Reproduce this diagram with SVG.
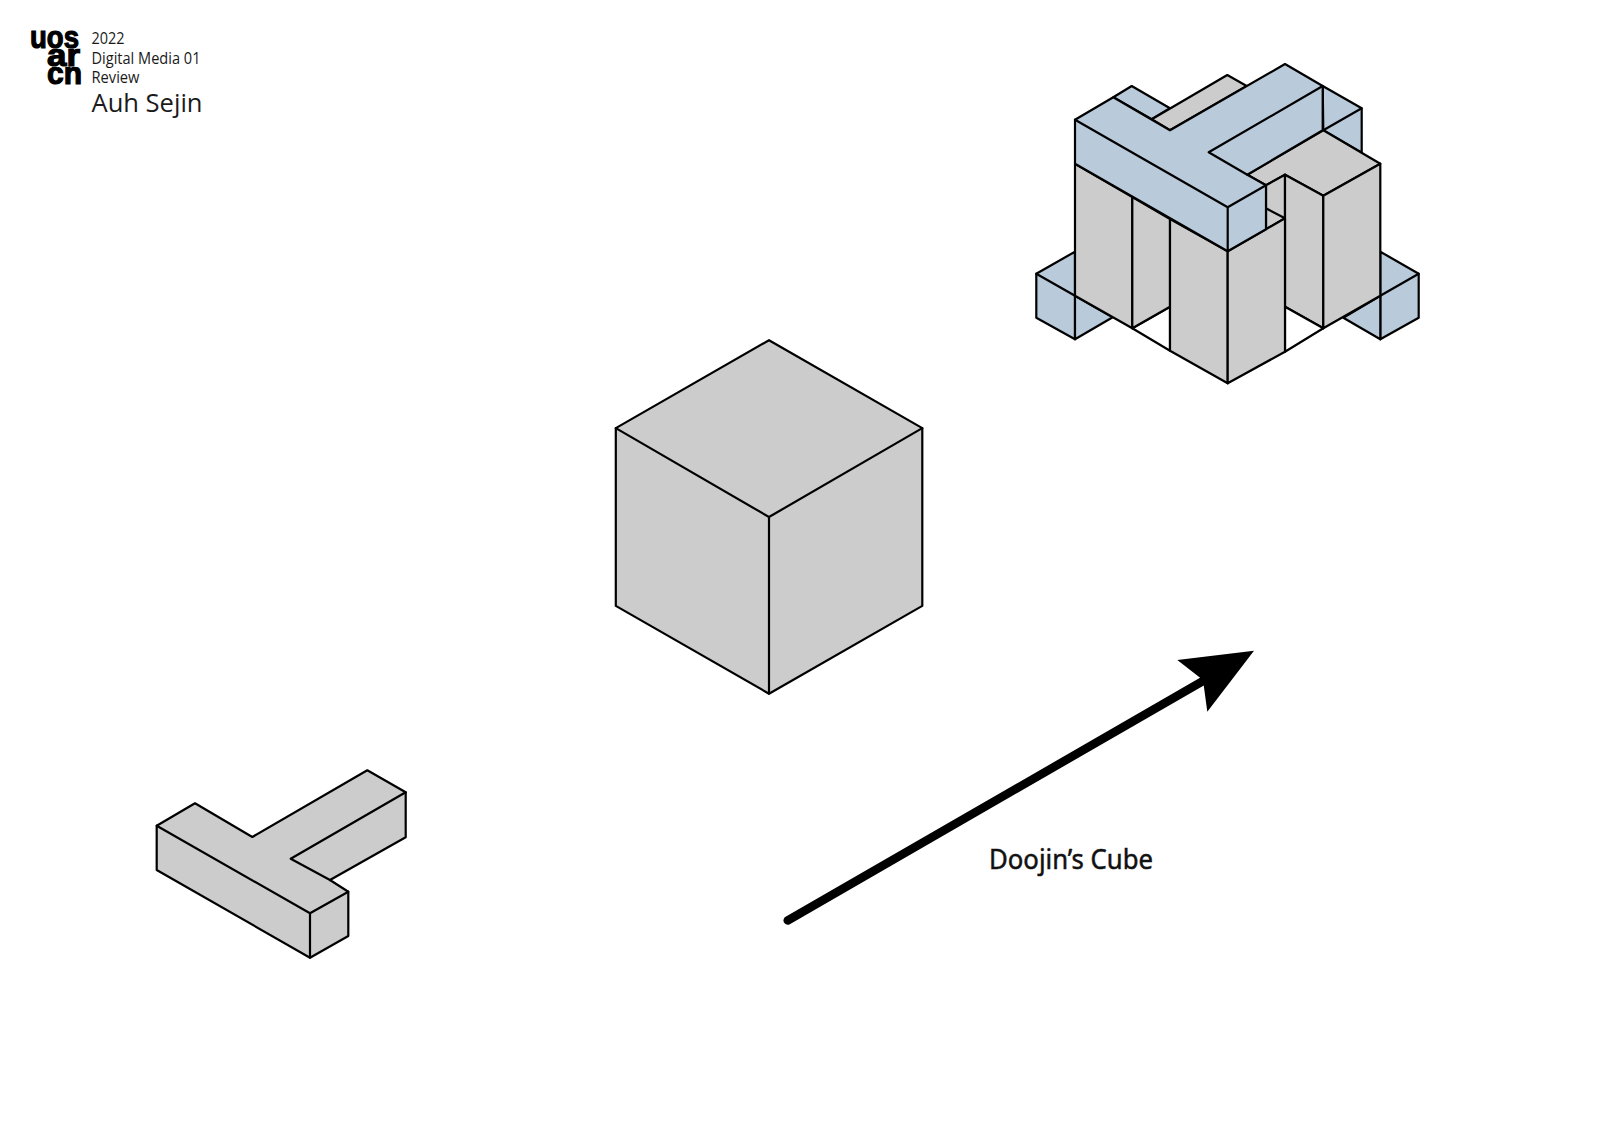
<svg xmlns="http://www.w3.org/2000/svg" width="1600" height="1131" viewBox="0 0 1600 1131">
<style>
.e{stroke:#000;stroke-width:2.200;stroke-linejoin:round;stroke-linecap:round}
.g{fill:#cccccc}.b{fill:#b9cada}.w{fill:#fff}.n{fill:none}
.h{font-family:"Open Sans","Liberation Sans",sans-serif;fill:#1a1a1a}
.l{font-family:"Liberation Sans",sans-serif;font-weight:700;fill:#000;stroke:#000;stroke-width:1.200;font-size:32px}
</style>
<defs>
<clipPath id="row2"><rect x="40" y="48.500" width="50" height="18.500"/></clipPath>
<clipPath id="row3"><rect x="40" y="66.800" width="50" height="18.500"/></clipPath>
</defs>
<rect width="1600" height="1131" fill="#fff"/>
<g id="logo">
<text class="l" x="30" y="48" textLength="49" lengthAdjust="spacingAndGlyphs">uos</text>
<text class="l" x="47" y="66" textLength="33" lengthAdjust="spacingAndGlyphs" clip-path="url(#row2)">ar</text>
<text class="l" x="47" y="84" textLength="35" lengthAdjust="spacingAndGlyphs" clip-path="url(#row3)">ch</text>
</g>
<g id="header">
<text class="h" font-size="15.500"><tspan x="91.500" y="44" textLength="33" lengthAdjust="spacingAndGlyphs">2022</tspan><tspan x="91.500" y="63.500" textLength="109" lengthAdjust="spacingAndGlyphs">Digital Media 01</tspan><tspan x="91.500" y="82.500" textLength="48" lengthAdjust="spacingAndGlyphs">Review</tspan></text>
<text class="h" x="91.500" y="112" font-size="25" textLength="111" lengthAdjust="spacingAndGlyphs">Auh Sejin</text>
</g>
<g id="t-piece" class="e">
<path class="g" d="M156.700 825.700L195 803.300L252.300 837L367.300 770.300L405.700 792.300V837.300L330 880L348.300 891.700V936L310 957.700L156.700 870Z"/>
<path class="n" d="M156.700 825.700L310 913.300L348.300 891.700M310 913.300V957.700M405.700 792.300L290.700 858.700L330 880"/>
</g>
<g id="cube" class="e">
<path class="g" d="M769 340.200L922.300 428.100V605.900L769 693.700L615.800 605.900V428.100Z"/>
<path class="n" d="M615.800 428.100L769 517L922.300 428.100M769 517V693.700"/>
</g>
<g id="assembly" class="e">
<g id="foot-left">
<path class="b" d="M1036.300 273.700L1075 251.700V339.300L1036.300 317.700Z"/>
<path class="b" d="M1075 295.700L1112.700 317.300L1075 339.300Z"/>
<path class="n" d="M1036.300 273.700L1075 295.700"/>
</g>
<g id="foot-right">
<path class="b" d="M1380.300 251.700L1418.700 273.700V317.700L1380.300 339.300Z"/>
<path class="b" d="M1380.300 295.700L1343.300 317.700L1380.300 339.300Z"/>
<path class="n" d="M1418.700 273.700L1380.300 295.700"/>
</g>
<g id="back-pieces">
<path class="b" d="M1113.300 97.300L1131.700 86L1170 108.300L1151.700 119.300Z"/>
<path class="g" d="M1151.700 119.300L1227.300 75L1246.700 86L1170 130.300Z"/>
<path class="b" d="M1322.700 86L1361.700 108.300V152.800L1323.300 130.300Z"/>
<path class="n" d="M1323.300 130.300L1361.700 108.300"/>
</g>
<g id="gray-columns">
<path class="g" d="M1323.300 130.300L1380.300 163.700L1323.300 195.700L1285 174.700L1266 185.300L1247.300 174.700Z"/>
<path class="g" d="M1266 185.300L1285 174.700V218.300L1266 229.300Z"/>
<path class="n" d="M1266 208.300L1285 218.300"/>
<path class="g" d="M1285 174.700L1323.300 195.700V328.300L1285 306.700Z"/>
<path class="g" d="M1323.300 195.700L1380.300 163.700V295.700L1323.300 328.300Z"/>
<path class="w" d="M1132.300 328.300L1170 306.700V350.700Z"/>
<path class="w" d="M1285 306.700L1323.300 328.300L1285 351.700Z"/>
<path class="g" d="M1075 163.700V295.700L1132.300 328.300V197Z"/>
<path class="g" d="M1132.300 197V328.300L1170 306.700V219Z"/>
<path class="g" d="M1170 219V350.700L1227.700 383.300V251.300Z"/>
<path class="g" d="M1227.700 251.300V383.300L1285 351.700V218.300Z"/>
</g>
<g id="blue-t">
<path class="b" d="M1075 119.700L1113.300 97.300L1170 130.300L1285 64L1322.700 86V130.300L1247.300 174.700L1266 185.300V229.300L1227.700 251.300L1075 163.700Z"/>
<path class="n" d="M1075 119.700L1227.700 207.300L1266 185.300M1227.700 207.300V251.300M1322.700 86L1208.700 152.300L1247.300 174.700"/>
</g>
</g>
<g id="connectors">
<path d="M787.700 920.500L1203 681" stroke="#000" stroke-width="8.500" stroke-linecap="round" fill="none"/>
<path d="M1254 650.700L1177.300 660L1203 680L1207.300 711.700Z" fill="#000"/>
</g>
<text id="arrow-label" x="989" y="869" font-family="'Noto Sans','Open Sans',sans-serif" font-size="27" fill="#111" stroke="#111" stroke-width="0.500" textLength="164" lengthAdjust="spacingAndGlyphs">Doojin’s Cube</text>
</svg>
